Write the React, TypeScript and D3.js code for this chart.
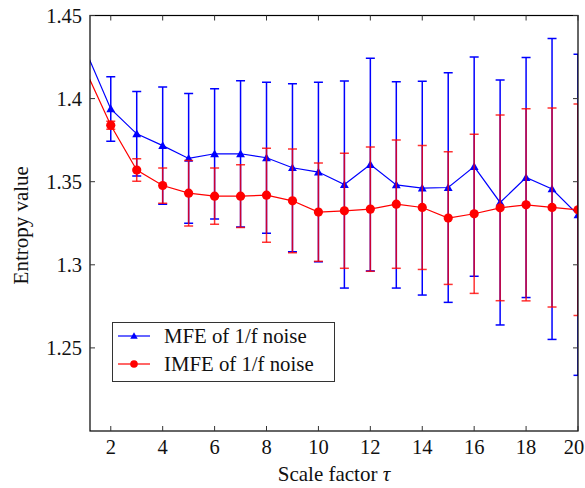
import React from "react";
import * as d3 from "d3";

// scale factor tau
const scales = [1, 2, 3, 4, 5, 6, 7, 8, 9, 10, 11, 12, 13, 14, 15, 16, 17, 18, 19, 20];

// MFE of 1/f noise: mean and std
const mfeMean = [1.430, 1.3938, 1.3788, 1.3717, 1.3640, 1.3668, 1.3668, 1.3644, 1.3584, 1.3558,
  1.3483, 1.3603, 1.3481, 1.3461, 1.3465, 1.3591, 1.3375, 1.3525, 1.3456, 1.3301];
const mfeStd = [0.015, 0.0194, 0.0254, 0.0353, 0.0390, 0.0392, 0.0440, 0.0454, 0.0506, 0.0540,
  0.0623, 0.0640, 0.0621, 0.0643, 0.0691, 0.0660, 0.0737, 0.0722, 0.0905, 0.0966];

// IMFE of 1/f noise: mean and std
const imfeMean = [1.418, 1.3840, 1.3570, 1.3477, 1.3431, 1.3413, 1.3413, 1.3419, 1.3385, 1.3317,
  1.3325, 1.3335, 1.3365, 1.3345, 1.3281, 1.3307, 1.3343, 1.3361, 1.3345, 1.3331];
const imfeStd = [0.002, 0.0024, 0.0068, 0.0106, 0.0197, 0.0169, 0.0189, 0.0283, 0.0312, 0.0296,
  0.0346, 0.0374, 0.0386, 0.0373, 0.0399, 0.0479, 0.0559, 0.0578, 0.0599, 0.0636];

const xTicks = [2, 4, 6, 8, 10, 12, 14, 16, 18, 20];
const yTicks = [1.25, 1.3, 1.35, 1.4, 1.45];

const FONT = "'Liberation Serif', 'Times New Roman', serif";
const W = 585;
const H = 488;
const m = { left: 90, right: 578, top: 15.5, bottom: 431 };

const x = d3.scaleLinear().domain([1.2, 20]).range([m.left, m.right]);
const y = d3.scaleLinear().domain([1.2, 1.45]).range([m.bottom, m.top]);

const line = d3
  .line<number>()
  .x((_, i) => x(scales[i]))
  .y(d => y(d));

const Series = ({ means, stds, color, marker, barOpacity }) => {
  const cap = 4.5;
  return (
    <g>
      {means.map((v, i) => {
        const cx = x(scales[i]);
        const y1 = y(v + stds[i]);
        const y0 = y(v - stds[i]);
        return (
          <g key={i} stroke={color} strokeWidth={1.5} strokeOpacity={barOpacity}>
            <line x1={cx} x2={cx} y1={y1} y2={y0} />
            <line x1={cx - cap} x2={cx + cap} y1={y1} y2={y1} />
            <line x1={cx - cap} x2={cx + cap} y1={y0} y2={y0} />
          </g>
        );
      })}
      <path d={line(means)} fill="none" stroke={color} strokeWidth={1.2} />
      {means.map((v, i) =>
        marker === "tri" ? (
          <path
            key={i}
            d={d3.symbol(d3.symbolTriangle, 34)()}
            transform={`translate(${x(scales[i])},${y(v) + 0.8})`}
            fill={color}
          />
        ) : (
          <circle key={i} cx={x(scales[i])} cy={y(v)} r={4.6} fill={color} />
        )
      )}
    </g>
  );
};

export default function App() {
  const tick = 5;
  return (
    <svg width={W} height={H} style={{ position: "absolute", left: 0, top: 0 }} fontFamily={FONT}>
      <rect width={W} height={H} fill="#fff" />
      <defs>
        <clipPath id="plot">
          <rect x={m.left} y={m.top} width={m.right - m.left} height={m.bottom - m.top} />
        </clipPath>
      </defs>

      <g clipPath="url(#plot)">
        <Series means={mfeMean} stds={mfeStd} color="#0000ff" marker="tri" barOpacity={1} />
        <Series means={imfeMean} stds={imfeStd} color="#ff0000" marker="circle" barOpacity={0.8} />
      </g>

      {/* axes box and ticks */}
      <rect
        x={m.left}
        y={m.top}
        width={m.right - m.left}
        height={m.bottom - m.top}
        fill="none"
        stroke="#000"
        strokeWidth={1.2}
      />
      {xTicks.map(t => (
        <g key={t} stroke="#333" strokeWidth={1}>
          <line x1={x(t)} x2={x(t)} y1={m.bottom} y2={m.bottom - tick} />
          <line x1={x(t)} x2={x(t)} y1={m.top} y2={m.top + tick} />
        </g>
      ))}
      {yTicks.map(t => (
        <g key={t} stroke="#333" strokeWidth={1}>
          <line x1={m.left} x2={m.left + tick} y1={y(t)} y2={y(t)} />
          <line x1={m.right} x2={m.right - tick} y1={y(t)} y2={y(t)} />
        </g>
      ))}
      {xTicks.map(t => (
        <text key={t} x={Math.min(x(t), 574)} y={454} textAnchor="middle" fontSize={20.5} fill="#111">
          {t}
        </text>
      ))}
      {yTicks.map(t => (
        <text key={t} x={82} y={y(t)} dy="0.35em" textAnchor="end" fontSize={20.5} fill="#111">
          {t}
        </text>
      ))}

      <text x={334} y={481} textAnchor="middle" fontSize={21} fill="#111">
        Scale factor <tspan fontStyle="italic">τ</tspan>
      </text>
      <text
        transform={`translate(28,${(m.top + m.bottom) / 2 + 2}) rotate(-90)`}
        textAnchor="middle"
        fontSize={21}
        fill="#111"
      >
        Entropy value
      </text>

      {/* legend */}
      <g>
        <rect x={112.5} y={322.5} width={222} height={59} fill="#fff" stroke="#333" strokeWidth={1} />
        <line x1={118} x2={150} y1={336} y2={336} stroke="#0000ff" strokeWidth={1.2} />
        <path d={d3.symbol(d3.symbolTriangle, 24)()} transform="translate(134,336.5)" fill="#0000ff" />
        <text x={164} y={336} dy="0.35em" fontSize={20.8} fill="#111">
          MFE of 1/f noise
        </text>
        <line x1={118} x2={150} y1={364} y2={364} stroke="#ff0000" strokeWidth={1.2} />
        <circle cx={134} cy={364} r={3.8} fill="#ff0000" />
        <text x={164} y={364} dy="0.35em" fontSize={20.8} fill="#111">
          IMFE of 1/f noise
        </text>
      </g>
    </svg>
  );
}
